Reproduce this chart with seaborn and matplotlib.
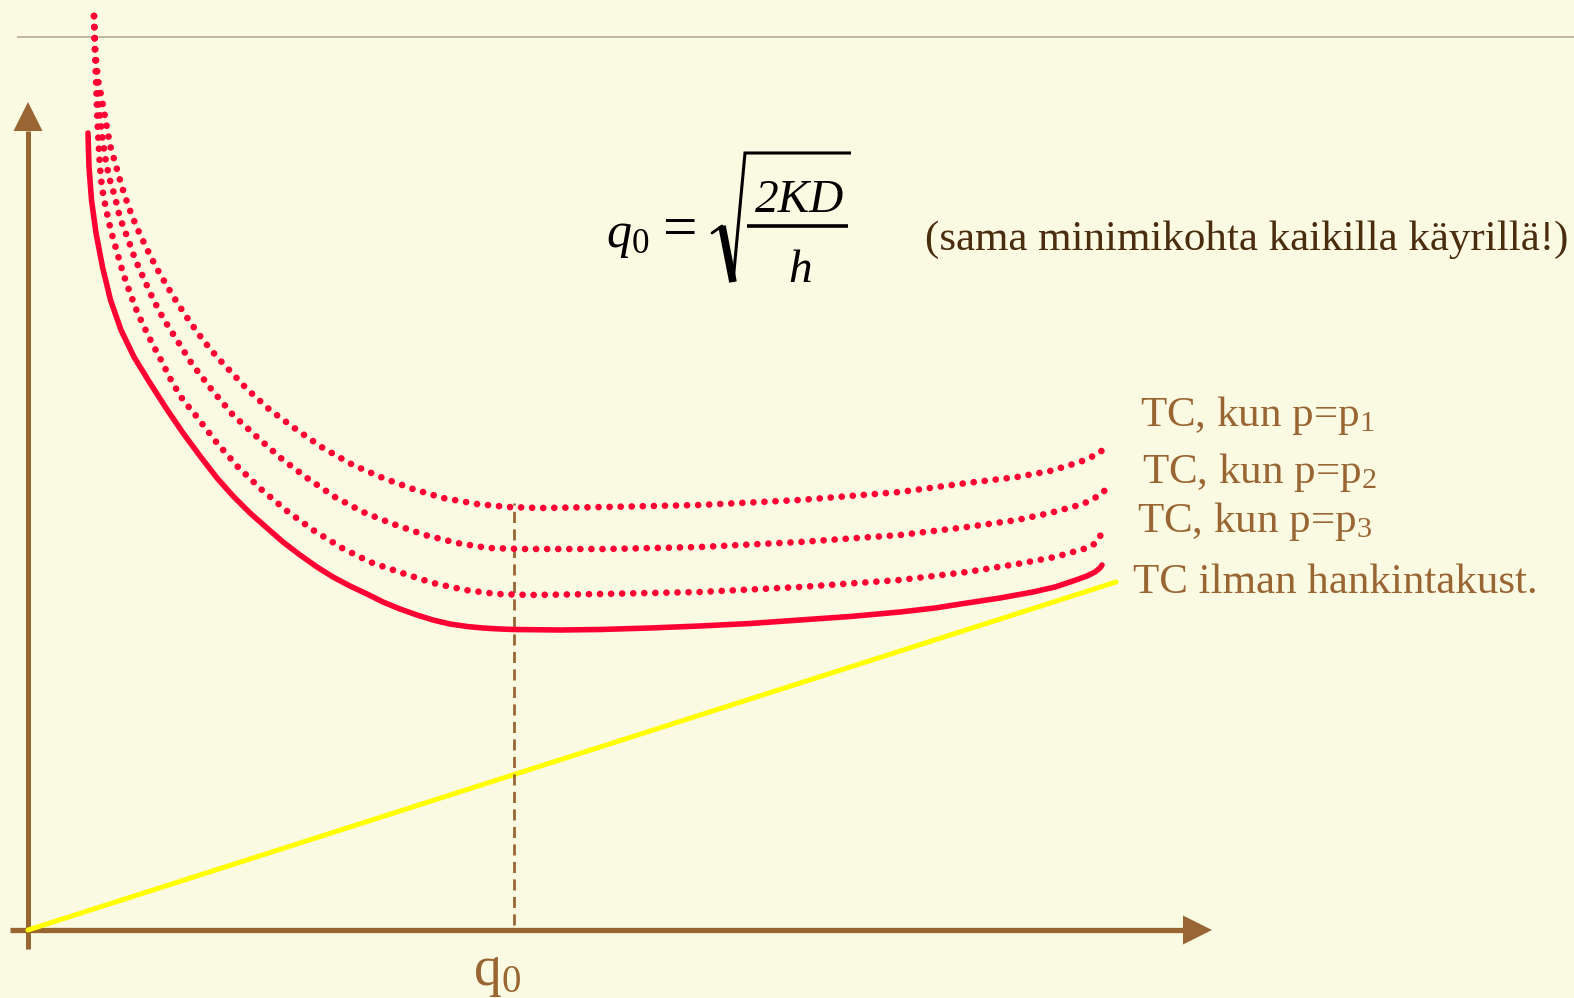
import numpy as np
import pandas as pd
import matplotlib
matplotlib.use("Agg")
import matplotlib.pyplot as plt
import seaborn as sns

# ---- Data (order quantity q, total cost TC in arbitrary units) ----
# TC without purchase cost
q_base = [60, 61, 63.5, 68, 74.5, 82.5, 93, 106, 122, 138, 155, 172, 189, 205, 222, 239,
          255, 272, 289, 305, 322, 339, 355, 372, 389, 405, 422, 439, 455, 472, 486,
          532, 572, 622, 672, 722, 772, 822, 872, 907, 939, 972, 1005, 1027, 1045, 1059,
          1067, 1072, 1074]
tc_base = [797, 763, 730, 697, 663, 630, 600, 573, 547, 522, 497, 474, 452, 434, 417, 402,
           388, 375, 363, 353, 344, 336, 328, 321, 315, 310, 306, 303.5, 302, 301, 300.5,
           300, 300.5, 302, 304, 306.5, 310, 313.5, 318, 322, 327, 332, 338, 343, 349, 354,
           358, 362, 365]

# TC with purchase price p1
q_p1 = [66, 67, 70, 74, 82, 88, 94, 101, 109, 118, 128, 139, 150, 162, 175, 189, 204, 219,
        242, 269, 295, 325, 355, 385, 415, 449, 480, 512, 577, 672, 772, 872, 939, 989,
        1022, 1052, 1072, 1079]
tc_p1 = [914, 882, 850, 830, 785, 764, 743, 722, 702, 683, 663, 644, 626, 608, 590, 573, 557, 541,
         520, 500, 482, 465, 452, 441, 432, 426, 423, 422, 423, 425, 430, 438, 447, 453,
         459, 468, 477, 487]

# TC with purchase price p2
q_p2 = [66, 67, 69, 71, 74, 77, 81, 87, 92, 100, 107, 116, 125, 135, 147, 164, 184, 205, 229,
        254, 279, 307, 335, 365, 397, 429, 460, 494, 515, 579, 672, 772, 872, 939, 989, 1022,
        1055, 1074, 1080]
tc_p2 = [914, 880, 850, 825, 796, 774, 753, 733, 712, 691, 671, 651, 631, 612, 593, 566, 540, 515, 493,
         471, 452, 433, 418, 406, 395, 387, 382, 381, 381, 381, 383, 388, 395, 403, 410, 417,
         426, 436, 444]

# TC with purchase price p3
q_p3 = [66, 67, 68, 69, 70, 72, 74, 78, 83, 89, 95, 102, 110, 119, 124, 134, 144, 155, 169, 189,
        210, 234, 259, 285, 314, 342, 374, 405, 437, 469, 502, 572, 672, 772, 872, 939, 989,
        1027, 1059, 1068, 1074]
tc_p3 = [914, 880, 850, 820, 797, 763, 742, 721, 699, 678, 657, 637, 616, 597, 587, 568, 548, 530, 513, 487,
         463, 440, 419, 400, 382, 368, 357, 347, 340, 336, 335, 336, 338, 343, 350, 358, 366,
         373, 382, 387, 397]

# Holding cost line
q_hold = [0, 1088]
c_hold = [0, 348]

# Optimal order quantity
q_opt = 486

labels = ["TC, kun p=p$_1$", "TC, kun p=p$_2$", "TC, kun p=p$_3$", "TC ilman hankintakust."]
note = "(sama minimikohta kaikilla käyrillä!)"

# ---- Style ----
BG = "#FAF9E2"
BROWN = "#996633"
DARK = "#4A2C0E"
RED = "#FF0033"
YELLOW = "#FFFF00"

sns.set_style("white")
plt.rcParams["font.family"] = ["Liberation Serif", "DejaVu Serif"]
plt.rcParams["mathtext.fontset"] = "custom"
plt.rcParams["mathtext.rm"] = "Liberation Serif"
plt.rcParams["mathtext.it"] = "Liberation Serif:italic"

fig = plt.figure(figsize=(15.74, 9.98), dpi=100, facecolor=BG)
ax = fig.add_axes([0, 0, 1, 1])
ax.set_facecolor(BG)
ax.set_xlim(-28, 1546)
ax.set_ylim(-68, 930)
ax.axis("off")

# Thin header rule
ax.plot([-11, 1546], [893, 893], color="#B3A488", lw=1.1, solid_capstyle="butt")

# Axes with arrowheads
x_end, y_end = 1184, 828
head_len, head_half = 29, 14.5
ax.plot([-18, x_end - head_len], [0, 0], color=BROWN, lw=3.8, solid_capstyle="butt")
ax.plot([0, 0], [-19, y_end - head_len], color=BROWN, lw=3.6, solid_capstyle="butt")
ax.fill([x_end, x_end - head_len, x_end - head_len], [0, head_half, -head_half], color=BROWN, lw=0)
ax.fill([0, head_half, -head_half], [y_end, y_end - head_len, y_end - head_len], color=BROWN, lw=0)

# Holding cost line
sns.lineplot(x=q_hold, y=c_hold, ax=ax, color=YELLOW, lw=3.6, sort=False, estimator=None)

# Dashed marker at the optimum
ax.plot([q_opt, q_opt], [5, 427], color=BROWN, lw=2.0, dashes=(4, 2.3), dash_capstyle="butt")

# Total cost curves
dot_style = dict(color=RED, lw=4.8, dashes=(0.01, 1.65), dash_capstyle="round",
                 sort=False, estimator=None)
for qq, tc in [(q_p1, tc_p1), (q_p2, tc_p2), (q_p3, tc_p3)]:
    sns.lineplot(x=qq, y=tc, ax=ax, **dot_style)
sns.lineplot(x=q_base, y=tc_base, ax=ax, color=RED, lw=4.0, sort=False, estimator=None,
             solid_capstyle="round", solid_joinstyle="round")

# Curve labels
label_pos = [(1112, 504), (1114, 447), (1109, 398), (1105, 337)]
for (lx, ly), txt in zip(label_pos, labels):
    ax.text(lx, ly, txt, color=BROWN, fontsize=31, ha="left", va="baseline")

# EOQ formula: q0 = sqrt(2KD / h)
fs = 34
ax.text(578, 683, r"$q_0$", fontsize=36, color="black", ha="left", va="baseline")
ax.text(652, 683, "=", fontsize=44, color="black", ha="center", va="baseline")
ax.text(772, 718, "2KD", fontsize=fs, color="black", style="italic", ha="center", va="baseline")
ax.text(772, 648, "h", fontsize=fs, color="black", style="italic", ha="center", va="baseline")
ax.plot([719, 820], [704, 704], color="black", lw=2.6, solid_capstyle="butt")
# radical sign
ax.plot([684, 694], [697, 704], color="black", lw=2.0, solid_capstyle="round")
ax.plot([694, 705], [704, 648], color="black", lw=5.5, solid_capstyle="butt")
ax.plot([705, 717, 823], [648, 777, 777], color="black", lw=2.2, solid_joinstyle="miter",
        solid_capstyle="butt")

ax.text(897, 680, note, color=DARK, fontsize=31, ha="left", va="baseline")

# q0 tick label
ax.text(q_opt - 17, -55, r"q$_0$", color=BROWN, fontsize=40, ha="center", va="baseline")

fig.savefig("out.png", dpi=100, facecolor=BG)
